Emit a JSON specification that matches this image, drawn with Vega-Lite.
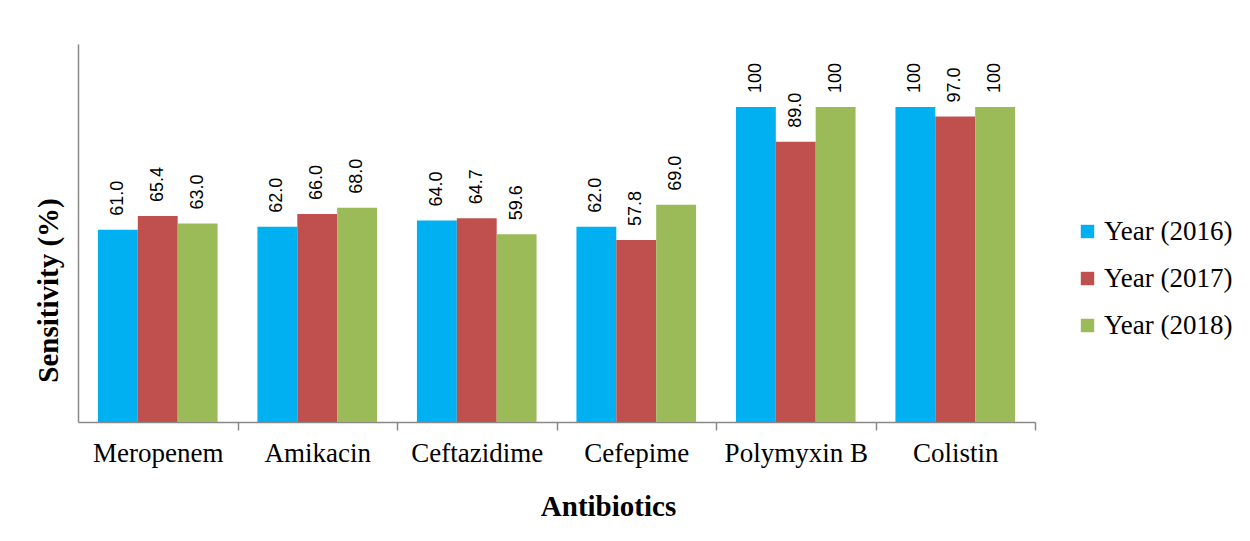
{
  "$schema": "https://vega.github.io/schema/vega-lite/v6.json",
  "width": 957,
  "height": 378,
  "autosize": {"type": "none"},
  "padding": {"left": 78, "top": 44, "right": 215, "bottom": 119},
  "background": "white",
  "config": {
    "view": {"stroke": null},
    "font": "Liberation Serif"
  },
  "data": {
    "values": [
      {"Antibiotic": "Meropenem", "Year": "Year (2016)", "value": 61.0, "label": "61.0"},
      {"Antibiotic": "Meropenem", "Year": "Year (2017)", "value": 65.4, "label": "65.4"},
      {"Antibiotic": "Meropenem", "Year": "Year (2018)", "value": 63.0, "label": "63.0"},
      {"Antibiotic": "Amikacin", "Year": "Year (2016)", "value": 62.0, "label": "62.0"},
      {"Antibiotic": "Amikacin", "Year": "Year (2017)", "value": 66.0, "label": "66.0"},
      {"Antibiotic": "Amikacin", "Year": "Year (2018)", "value": 68.0, "label": "68.0"},
      {"Antibiotic": "Ceftazidime", "Year": "Year (2016)", "value": 64.0, "label": "64.0"},
      {"Antibiotic": "Ceftazidime", "Year": "Year (2017)", "value": 64.7, "label": "64.7"},
      {"Antibiotic": "Ceftazidime", "Year": "Year (2018)", "value": 59.6, "label": "59.6"},
      {"Antibiotic": "Cefepime", "Year": "Year (2016)", "value": 62.0, "label": "62.0"},
      {"Antibiotic": "Cefepime", "Year": "Year (2017)", "value": 57.8, "label": "57.8"},
      {"Antibiotic": "Cefepime", "Year": "Year (2018)", "value": 69.0, "label": "69.0"},
      {"Antibiotic": "Polymyxin B", "Year": "Year (2016)", "value": 100, "label": "100"},
      {"Antibiotic": "Polymyxin B", "Year": "Year (2017)", "value": 89.0, "label": "89.0"},
      {"Antibiotic": "Polymyxin B", "Year": "Year (2018)", "value": 100, "label": "100"},
      {"Antibiotic": "Colistin", "Year": "Year (2016)", "value": 100, "label": "100"},
      {"Antibiotic": "Colistin", "Year": "Year (2017)", "value": 97.0, "label": "97.0"},
      {"Antibiotic": "Colistin", "Year": "Year (2018)", "value": 100, "label": "100"}
    ]
  },
  "encoding": {
    "x": {
      "field": "Antibiotic",
      "type": "nominal",
      "sort": null,
      "scale": {"paddingInner": 0.25, "paddingOuter": 0.125},
      "axis": {
        "title": "Antibiotics",
        "titleFont": "Liberation Serif",
        "titleFontSize": 29,
        "titleFontWeight": "bold",
        "titleColor": "black",
        "titleX": 530,
        "titleY": 84,
        "titleAlign": "center",
        "titleBaseline": "middle",
        "labelAngle": 0,
        "labelFont": "Liberation Serif",
        "labelFontSize": 27,
        "labelColor": "black",
        "labelPadding": 10,
        "tickOffset": 79.75,
        "labelOffset": -79.75,
        "tickSize": 8,
        "tickColor": "#888888",
        "domainColor": "#888888",
        "domainWidth": 1.5,
        "tickWidth": 1.5
      }
    },
    "xOffset": {"field": "Year", "type": "nominal", "scale": {"paddingInner": 0, "paddingOuter": 0}},
    "y": {
      "field": "value",
      "type": "quantitative",
      "scale": {"domain": [0, 120], "nice": false},
      "axis": {
        "title": "Sensitivity (%)",
        "titleFont": "Liberation Serif",
        "titleFontSize": 29,
        "titleFontWeight": "bold",
        "titleColor": "black",
        "titleX": -30,
        "titleY": 246,
        "titleAngle": 270,
        "titleAlign": "center",
        "titleBaseline": "middle",
        "labels": false,
        "ticks": false,
        "grid": false,
        "domainColor": "#888888",
        "domainWidth": 1.5
      }
    }
  },
  "layer": [
    {
      "mark": {"type": "bar"},
      "encoding": {
        "color": {
          "field": "Year",
          "type": "nominal",
          "scale": {"range": ["#00B0F0", "#C0504D", "#9BBB59"]},
          "legend": {
            "title": null,
            "orient": "none",
            "legendX": 996,
            "legendY": 174,
            "symbolType": "square",
            "symbolSize": 180,
            "symbolStrokeWidth": 0,
            "labelFont": "Liberation Serif",
            "labelFontSize": 27,
            "labelColor": "black",
            "labelOffset": 3,
            "rowPadding": 19
          }
        }
      }
    },
    {
      "mark": {"type": "text", "angle": 270, "align": "left", "baseline": "middle", "dx": 14, "font": "Liberation Sans", "fontSize": 18, "color": "black"},
      "encoding": {
        "text": {"field": "label", "type": "nominal"}
      }
    }
  ]
}
